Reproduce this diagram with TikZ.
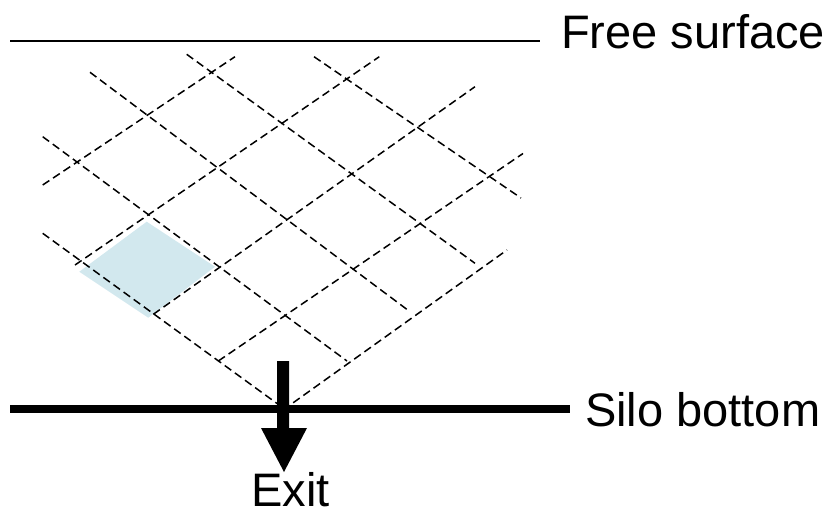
\documentclass[tikz,border=0pt]{standalone}
\usepackage{fontspec}
\setmainfont{Liberation Sans}
\definecolor{cellblue}{RGB}{210,232,238}
\tikzset{
  gridline/.style={draw=black, line width=1.5pt, dash pattern=on 8pt off 4.5pt},
  label/.style={anchor=base west, inner sep=0pt, font=\fontsize{47}{50}\selectfont},
}
\begin{document}
\begin{tikzpicture}[x=1pt,y=-1pt]
\useasboundingbox (0,0) rectangle (831,512);
% shaded cell
\fill[cellblue] (146.7,221.7) -- (215,266.7) -- (148.3,317.7) -- (79.3,271.7) -- cycle;
% lines going down-right
\draw[gridline] (42.7,233.3) -- (286,410);
\draw[gridline] (42.7,136.7) -- (347,361);
\draw[gridline] (90,72.3) -- (410,311.7);
\draw[gridline] (186.7,54.3) -- (475,263.3);
\draw[gridline] (314,56.7) -- (521,198);
% lines going up-right
\draw[gridline] (42.7,185) -- (235,56.7);
\draw[gridline] (75,265) -- (379.3,56.7);
\draw[gridline] (153.3,314.3) -- (475,86.7);
\draw[gridline] (218.3,361) -- (523,153.5);
\draw[gridline] (283,410) -- (507,250);
% free surface
\draw[line width=1.6pt] (10,41) -- (540,41);
% silo bottom
\draw[line width=8pt] (10,409) -- (570,409);
% exit arrow
\fill (277,361) -- (289,361) -- (289,428) -- (307,428) -- (284,472) -- (261,428) -- (277,428) -- cycle;
\node[label] (free) at (561,48) {Free surface};
\node[label] (silo) at (585,426) {Silo bottom};
\node[label] (exit) at (251,506.5) {Exit};
\end{tikzpicture}
\end{document}
